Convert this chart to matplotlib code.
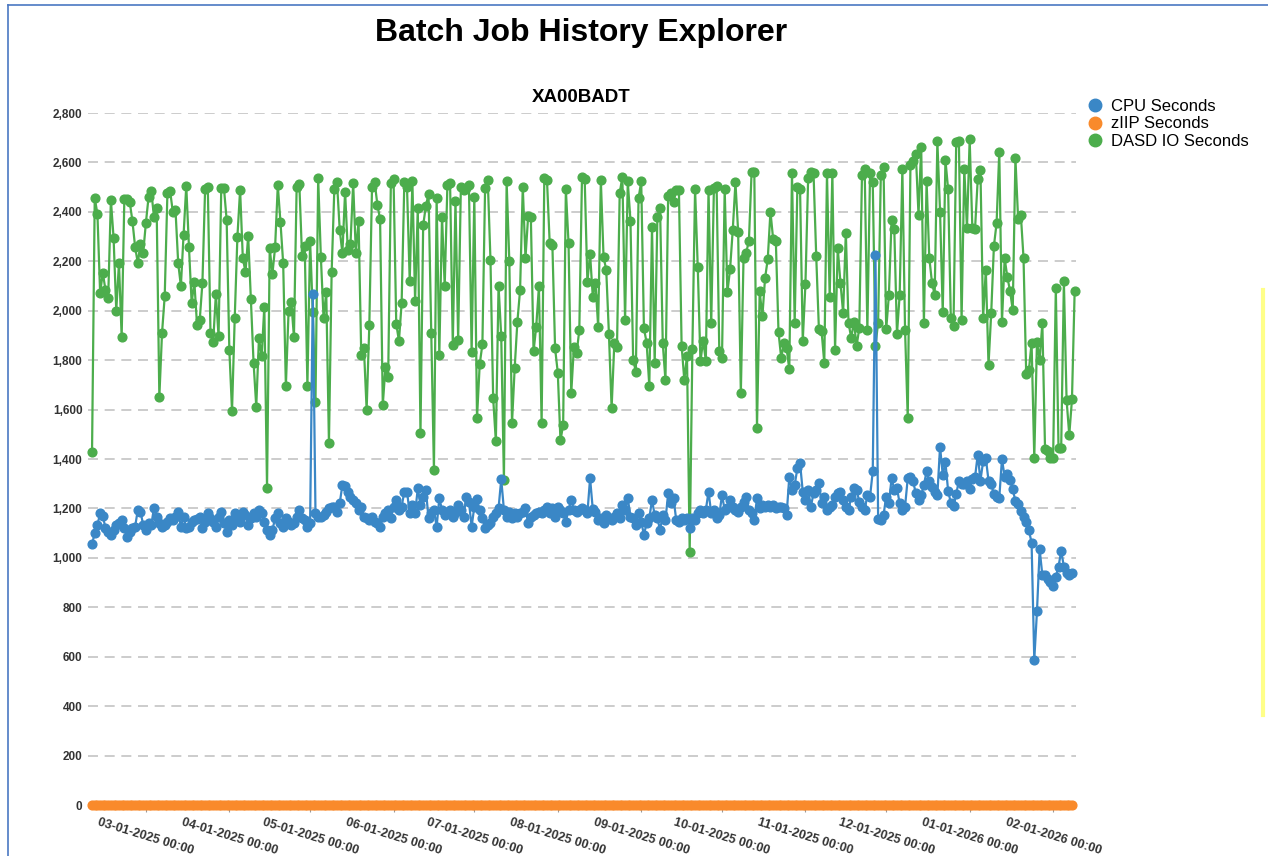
import matplotlib
matplotlib.use('Agg')
import matplotlib.pyplot as plt
import matplotlib.dates as mdates
from matplotlib.lines import Line2D
from matplotlib.ticker import FuncFormatter, MultipleLocator
import pandas as pd

plt.rcParams['font.family'] = ['Liberation Sans', 'DejaVu Sans']

# --- data (one point per day) ---
START_DATE = '2025-02-09'
JOB_NAME = 'XA00BADT'

cpu_seconds = [
    # feb / early march
    1055, 1100, 1133, 1180, 1170, 1120, 1106, 1093, 1113, 1133, 1140, 1153, 1120, 1086, 1106, 1120, 1126, 1194, 1187, 1133,
    1113, 1143, 1133, 1201, 1167, 1140, 1126, 1133, 1147, 1160, 1153, 1167, 1187, 1126, 1167, 1120, 1126, 1147, 1153, 1157,
    1167, 1120, 1147, 1180,
    # march / april
    1160, 1147, 1126, 1167, 1187, 1140, 1106, 1153, 1133, 1180, 1167, 1147, 1187, 1173, 1133, 1160, 1180, 1167, 1194, 1180,
    1147, 1113, 1093, 1113, 1160, 1180, 1140, 1126, 1160, 1147, 1133, 1140, 1167, 1194, 1160, 1153, 1126, 1140, 2067, 1180,
    1167, 1165, 1173, 1187, 1201, 1207,
    # may / june
    1207, 1187, 1221, 1295, 1291, 1268, 1248, 1234, 1221, 1194, 1207, 1167, 1160, 1153, 1167, 1147, 1140, 1126, 1167, 1180,
    1194, 1160, 1207, 1234, 1194, 1207, 1268, 1268, 1180, 1214, 1180, 1281, 1214, 1248, 1275, 1160, 1180, 1194, 1126, 1241,
    1194, 1173, 1180, 1194, 1167, 1180,
    # june / july
    1214, 1194, 1167, 1248, 1227, 1126, 1207, 1237, 1194, 1160, 1120, 1133, 1140, 1167, 1180, 1201, 1318, 1194, 1167, 1187,
    1160, 1180, 1167, 1180, 1187, 1201, 1140, 1167, 1173, 1183, 1187, 1180, 1194, 1207, 1180, 1201, 1167, 1207, 1194, 1180,
    1147, 1194, 1234, 1194, 1187, 1194, 1201,
    # aug / sept
    1194, 1180, 1322, 1197, 1187, 1153, 1160, 1140, 1173, 1160, 1153, 1167, 1180, 1160, 1214, 1194, 1241, 1167, 1160, 1133,
    1180, 1147, 1093, 1140, 1160, 1234, 1173, 1160, 1113, 1173, 1153, 1261, 1221, 1241, 1153, 1147, 1160, 1153, 1160, 1120,
    1160, 1153, 1180, 1194,
    # sept / nov
    1180, 1194, 1268, 1180, 1194, 1160, 1173, 1254, 1194, 1201, 1234, 1207, 1194, 1187, 1207, 1227, 1248, 1194, 1180, 1153,
    1241, 1201, 1214, 1207, 1214, 1207, 1214, 1201, 1207, 1207, 1201, 1173, 1328, 1275, 1295, 1362, 1383, 1268, 1234, 1275,
    1207, 1261, 1275, 1302, 1221, 1248,
    # nov / dec
    1194, 1207, 1214, 1248, 1261, 1268, 1234, 1207, 1194, 1248, 1281, 1275, 1227, 1207, 1194, 1254, 1248, 1350, 2226, 1157,
    1153, 1173, 1248, 1221, 1322, 1275, 1281, 1221, 1194, 1207, 1322, 1328, 1309, 1261, 1234, 1254, 1295, 1350, 1309, 1288,
    1268, 1254, 1450, 1335,
    # jan / feb 2026
    1386, 1271, 1223, 1209, 1257, 1313, 1299, 1299, 1313, 1278, 1320, 1327, 1418, 1313, 1390, 1404, 1313, 1299, 1257, 1246,
    1243, 1400, 1327, 1341, 1316, 1278, 1229, 1216, 1188, 1167, 1146, 1111, 1062, 588, 783, 1034, 930, 930, 916, 902,
    888, 923, 965, 1027, 965, 937, 930, 937,
]

dasd_io_seconds = [
    1430, 2456, 2392, 2072, 2153, 2084, 2052, 2448, 2295, 2000, 2193, 1894, 2452, 2452, 2440, 2363, 2258, 2193, 2270, 2234,
    2355, 2460, 2485, 2380, 2415, 1651, 1910, 2060, 2477, 2485, 2400, 2408, 2193, 2100, 2307, 2505, 2258, 2031, 2117, 1942,
    1962, 2113, 2493, 2501,
    1909, 1875, 2067, 1896, 2496, 2496, 2368, 1842, 1595, 1970, 2300, 2489, 2215, 2155, 2303, 2047, 1790, 1612, 1889, 1815,
    2017, 1284, 2253, 2148, 2257, 2507, 2357, 2192, 1696, 1997, 2037, 1893, 2500, 2513, 2222, 2262, 1696, 2283, 1993, 1632,
    2536, 2217, 1970, 2074, 1464, 2155,
    2492, 2519, 2327, 2233, 2482, 2244, 2270, 2516, 2233, 2365, 1821, 1848, 1599, 1943, 2500, 2519, 2428, 2370, 1619, 1774,
    1731, 2516, 2532, 1947, 1878, 2030, 2519, 2500, 2121, 2523, 2040, 2415, 1504, 2345, 2424, 2472, 1909, 1356, 2455, 1821,
    2381, 2100, 2509, 2516, 1862, 2442,
    1882, 2500, 2489, 2496, 2509, 1831, 2462, 1565, 1783, 1864, 2496, 2527, 2206, 1646, 1471, 2100, 1896, 1315, 2523, 2202,
    1545, 1770, 1956, 2084, 2502, 2213, 2384, 2378, 1835, 1936, 2098, 1545, 2539, 2527, 2273, 2266, 1848, 1750, 1475, 1538,
    2492, 2273, 1666, 1855, 1828, 1922, 2543,
    2532, 2118, 2230, 2057, 2114, 1936, 2527, 2219, 2165, 1906, 1605, 1868, 1855, 2475, 2543, 1963, 2523, 2365, 1801, 1754,
    2455, 2523, 1929, 1871, 1696, 2337, 1788, 2378, 2415, 1868, 1718, 2465, 2475, 2438, 2489, 2489, 1858, 1720, 1817, 1025,
    1844, 2492, 2176, 1795,
    1879, 1798, 2489, 1949, 2496, 2505, 1835, 1808, 2492, 2074, 2168, 2327, 2519, 2320, 1666, 2213, 2235, 2283, 2563, 2563,
    1527, 2078, 1977, 2132, 2209, 2401, 2290, 2283, 1912, 1808, 1868, 1848, 1763, 2557, 1952, 2500, 2492, 1878, 2109, 2536,
    2563, 2557, 2222, 1925, 1916, 1788,
    2557, 2057, 2557, 1842, 2253, 2114, 1990, 2316, 1952, 1889, 1956, 1858, 1929, 2550, 2573, 1922, 2557, 2519, 1858, 1952,
    2550, 2581, 1925, 2064, 2368, 2330, 1906, 2064, 2573, 1922, 1565, 2590, 2604, 2635, 2388, 2664, 1952, 2523, 2215, 2114,
    2064, 2685, 2401, 1993,
    2610, 2491, 1971, 1940, 2682, 2686, 1961, 2575, 2334, 2693, 2334, 2331, 2533, 2570, 1971, 2166, 1780, 1989, 2261, 2354,
    2644, 1954, 2212, 2136, 2080, 2003, 2616, 2370, 2389, 2215, 1745, 1759, 1871, 1404, 1874, 1801, 1950, 1439, 1432, 1404,
    1404, 2091, 1446, 1446, 2119, 1638, 1497, 1641, 2080,
]

# zIIP sits on zero for the whole range
ziip_seconds = [0] * len(cpu_seconds)

SERIES_LABELS = ['CPU Seconds', 'zIIP Seconds', 'DASD IO Seconds']
BLUE = '#3a87c6'
ORANGE = '#f98a2b'
GREEN = '#4cad4c'

cpu_dates = pd.date_range(START_DATE, periods=len(cpu_seconds), freq='D')
ziip_dates = pd.date_range(START_DATE, periods=len(ziip_seconds), freq='D')
dasd_dates = pd.date_range(START_DATE, periods=len(dasd_io_seconds), freq='D')

W, H = 1268, 856
fig = plt.figure(figsize=(W / 100, H / 100), dpi=100)
ax = fig.add_axes([88 / W, 51 / H, (1076 - 88) / W, (805 - 113) / H])

line_kw = dict(lw=1.6, marker='o', ms=6.3, clip_on=False)
ax.plot(dasd_dates, dasd_io_seconds, color=GREEN, zorder=3, **line_kw)
ax.plot(cpu_dates, cpu_seconds, color=BLUE, zorder=4, **line_kw)
ax.plot(ziip_dates, ziip_seconds, color=ORANGE, zorder=5, **line_kw)

ax.set_ylim(0, 2800)
ax.set_xlim(cpu_dates[0] - pd.Timedelta(days=1.5), cpu_dates[-1] + pd.Timedelta(days=1.5))

ax.yaxis.set_major_locator(MultipleLocator(200))
ax.yaxis.set_major_formatter(FuncFormatter(lambda v, p: f'{int(v):,}'))
ax.yaxis.grid(True, color='#c4c4c4', linestyle=(0, (6, 4)), lw=1.2)
ax.set_axisbelow(True)
for s in ax.spines.values():
    s.set_visible(False)

ax.tick_params(axis='y', length=0, pad=4, labelsize=8.5, labelcolor='#333333')
for lbl in ax.get_yticklabels():
    lbl.set_fontweight('bold')

ax.xaxis.set_major_locator(mdates.MonthLocator(bymonthday=1))
ax.xaxis.set_major_formatter(mdates.DateFormatter('%m-%d-%Y %H:%M'))
ax.tick_params(axis='x', length=5, color='#999999', pad=3, labelsize=9, labelcolor='#333333')
for lbl in ax.get_xticklabels():
    lbl.set_fontweight('bold')
    lbl.set_rotation(-17)
    lbl.set_ha('center')

fig.text(581 / W, 1 - 33 / H, 'Batch Job History Explorer', ha='center', va='center',
         fontsize=23, fontweight='bold')
fig.text(581 / W, 1 - 97 / H, JOB_NAME, ha='center', va='center', fontsize=13.5, fontweight='bold')

handles = [Line2D([], [], ls='none', marker='o', ms=9, color=c) for c in (BLUE, ORANGE, GREEN)]
fig.legend(handles, SERIES_LABELS, loc='upper left', bbox_to_anchor=(1088 / W, 1 - 99 / H),
           frameon=False, fontsize=12, handlelength=0.8, handletextpad=0.6,
           labelspacing=0.15, borderpad=0, borderaxespad=0)

# screenshot frame and highlight strip
fig.add_artist(Line2D([8 / W, 8 / W], [0, 1 - 5 / H], transform=fig.transFigure, color='#4a78c2', lw=1.2))
fig.add_artist(Line2D([8 / W, 1], [1 - 5 / H, 1 - 5 / H], transform=fig.transFigure, color='#4a78c2', lw=1.2))
fig.add_artist(Line2D([1263 / W, 1263 / W], [1 - 715 / H, 1 - 290 / H], transform=fig.transFigure,
                      color='#ffff88', lw=3))

fig.savefig('out.png', dpi=100)
